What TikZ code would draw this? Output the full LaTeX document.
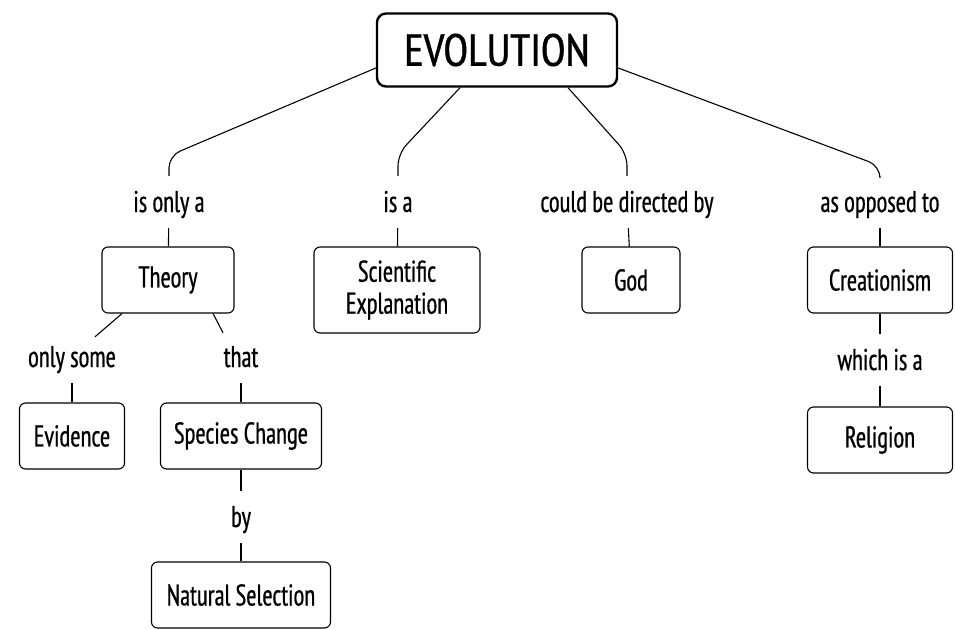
\documentclass[tikz,border=0pt]{standalone}
\usepackage{fontspec}
\setmainfont{PT Sans Narrow}[FakeStretch=0.83,FakeBold=0.6]
\newfontfamily\evofont{PT Sans Narrow}[FakeBold=0.8]
\usetikzlibrary{positioning,calc}

\begin{document}
\begin{tikzpicture}[
    x=1pt,y=-1pt,
    concept/.style={rectangle,rounded corners=6pt,draw=black,line width=1.1pt,
                minimum height=66pt,minimum width=98pt,inner xsep=12pt,
                align=center,font=\fontsize{30}{32}\selectfont},
    topconcept/.style={concept,rounded corners=9pt,line width=2.4pt,
                minimum width=240pt,minimum height=73pt,
                font=\evofont\fontsize{45}{48}\selectfont},
    linkword/.style={inner sep=0pt,minimum height=52pt,text height=20pt,
                text depth=0pt,font=\fontsize{30}{32}\selectfont},
    link/.style={line width=1.1pt,rounded corners=12pt}
  ]
    \useasboundingbox (0,0) rectangle (955,629);

    \node[topconcept] (evo) at (497,50) {EVOLUTION};

    % linking phrases under the top concept
    \node[linkword] (isonly) at (169,202) {is only a};
    \node[linkword] (isa) at (398,202) {is a};
    \node[linkword] (directed) at (627,202) {could be directed by};
    \node[linkword] (opposed) at (880,202) {as opposed to};

    \node[concept,minimum width=132pt] (theory) at (168,280) {Theory};
    \node[concept,minimum width=166pt,minimum height=86pt] (science) at (397,290)
      {Scientific\\Explanation};
    \node[concept] (god) at (631,280) {God};
    \node[concept,minimum width=145pt] (creation) at (880,280) {Creationism};

    \node[linkword] (onlysome) at (72,357) {only some};
    \node[linkword] (that) at (241,357) {that};
    \node[concept,minimum width=105pt] (evidence) at (72,436) {Evidence};
    \node[concept,minimum width=161pt] (species) at (241,436) {Species Change};
    \node[linkword] (by) at (241,517) {by};
    \node[concept,minimum width=179pt] (natsel) at (241,595) {Natural Selection};

    \node[linkword] (whichis) at (880,360) {which is a};
    \node[concept,minimum width=145pt] (religion) at (880,440) {Religion};

    \draw[link] ([yshift=-18pt]evo.west) -- ([yshift=20pt]isonly.north) -- (isonly.north);
    \draw[link] ([xshift=-37pt]evo.south) -- ([yshift=22pt]isa.north) -- (isa.north);
    \draw[link] ([xshift=71pt]evo.south) -- ([yshift=22pt]directed.north) -- (directed.north);
    \draw[link] ([yshift=-18pt]evo.east) -- ([yshift=10pt]opposed.north) -- (opposed.north);

    \draw[link] (isonly) -- (theory);
    \draw[link] (isa) -- (science);
    \draw[link] (directed) -- (god);
    \draw[link] (opposed) -- (creation);

    \draw[link] ([xshift=-46pt]theory.south) -- ([xshift=23pt,yshift=-6pt]onlysome.north);
    \draw[link] ([xshift=45pt]theory.south) -- ([xshift=-18pt,yshift=-2pt]that.north);
    \draw[link] (onlysome) -- (evidence);
    \draw[link] (that) -- (species);
    \draw[link] (species) -- (by);
    \draw[link] (by) -- (natsel);

    \draw[link] (creation) -- (whichis);
    \draw[link] (whichis) -- (religion);
\end{tikzpicture}
\end{document}
